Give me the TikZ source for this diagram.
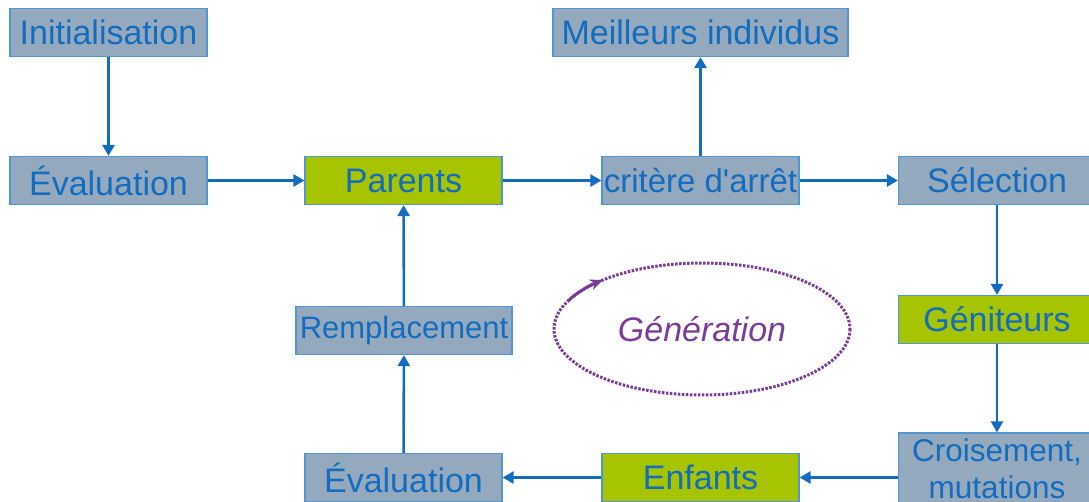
\documentclass[tikz,border=0pt]{standalone}
\usepackage{fontspec}
\setmainfont{Liberation Sans}
\usetikzlibrary{arrows.meta}

\definecolor{boxgrey}{RGB}{148,169,189}
\definecolor{boxline}{RGB}{80,150,210}
\definecolor{txtblue}{RGB}{18,108,192}
\definecolor{boxgreen}{RGB}{166,196,0}
\definecolor{genpurple}{RGB}{122,60,150}

\begin{document}
\begin{tikzpicture}[x=1pt,y=-1pt,>={Triangle[width=12pt,length=11pt]}]

  \tikzset{
    box/.style={draw=boxline, line width=1.2pt, fill=boxgrey, text=txtblue,
                inner sep=0pt, minimum width=197pt, minimum height=48pt,
                font=\fontsize{34}{38}\selectfont},
    gbox/.style={box, fill=boxgreen},
    flow/.style={->, txtblue, line width=2.6pt},
    cycle/.style={genpurple, line width=3pt, dash pattern=on 2.5pt off 1.5pt}
  }

  \useasboundingbox (0,0) rectangle (1089,502);

  % --- boxes ---------------------------------------------------------
  \node[box] (init) at (108.5,32.5) {Initialisation};
  \node[box] (evalA) at (108.5,180.5) {Évaluation};
  \node[gbox] (parents) at (403.5,180.5) {Parents};
  \node[box, font=\fontsize{33}{38}\selectfont] (stop) at (700.5,180.5) {critère d\textquotesingle arrêt};
  \node[box, minimum width=295pt] (best) at (700.5,32.5) {Meilleurs individus};
  \node[box] (select) at (997,180.5) {Sélection};
  \node[gbox] (genit) at (997,319.5) {Géniteurs};
  \node[box, minimum height=72pt, align=center,
        font=\fontsize{31.5}{37}\selectfont] (cross) at (997,469) {Croisement,\\mutations};
  \node[gbox] (kids) at (700.5,477.5) {Enfants};
  \node[box] (evalB) at (403.5,477.5) {Évaluation};
  \node[box, minimum width=216pt, font=\fontsize{31}{36}\selectfont] (repl) at (404,330.5) {Remplacement};

  % --- arrows ---------------------------------------------------------
  \draw[flow] (init) -- (evalA);
  \draw[flow] (evalA) -- (parents);
  \draw[flow] (parents) -- (stop);
  \draw[flow] (stop) -- (best);
  \draw[flow] (stop) -- (select);
  \draw[flow] (select) -- (genit);
  \draw[flow] (genit) -- (genit |- cross.north);
  \draw[flow] (cross.west |- kids) -- (kids);
  \draw[flow] (kids) -- (evalB);
  \draw[flow] (evalB) -- (repl);
  \draw[flow] (repl) -- (parents);

  % --- generation loop ------------------------------------------------
  \coordinate (loop) at (702,329);
  \draw[cycle] (loop) ellipse [x radius=148, y radius=66];
  \draw[genpurple, line width=3pt, -{Stealth[length=13pt,width=11pt]}]
        (loop) ++(205:148 and 66) arc [start angle=205, end angle=228,
        x radius=148, y radius=66];
  \node[text=genpurple, font=\fontsize{34}{38}\selectfont\itshape] (gen) at (loop) {Génération};

\end{tikzpicture}
\end{document}
